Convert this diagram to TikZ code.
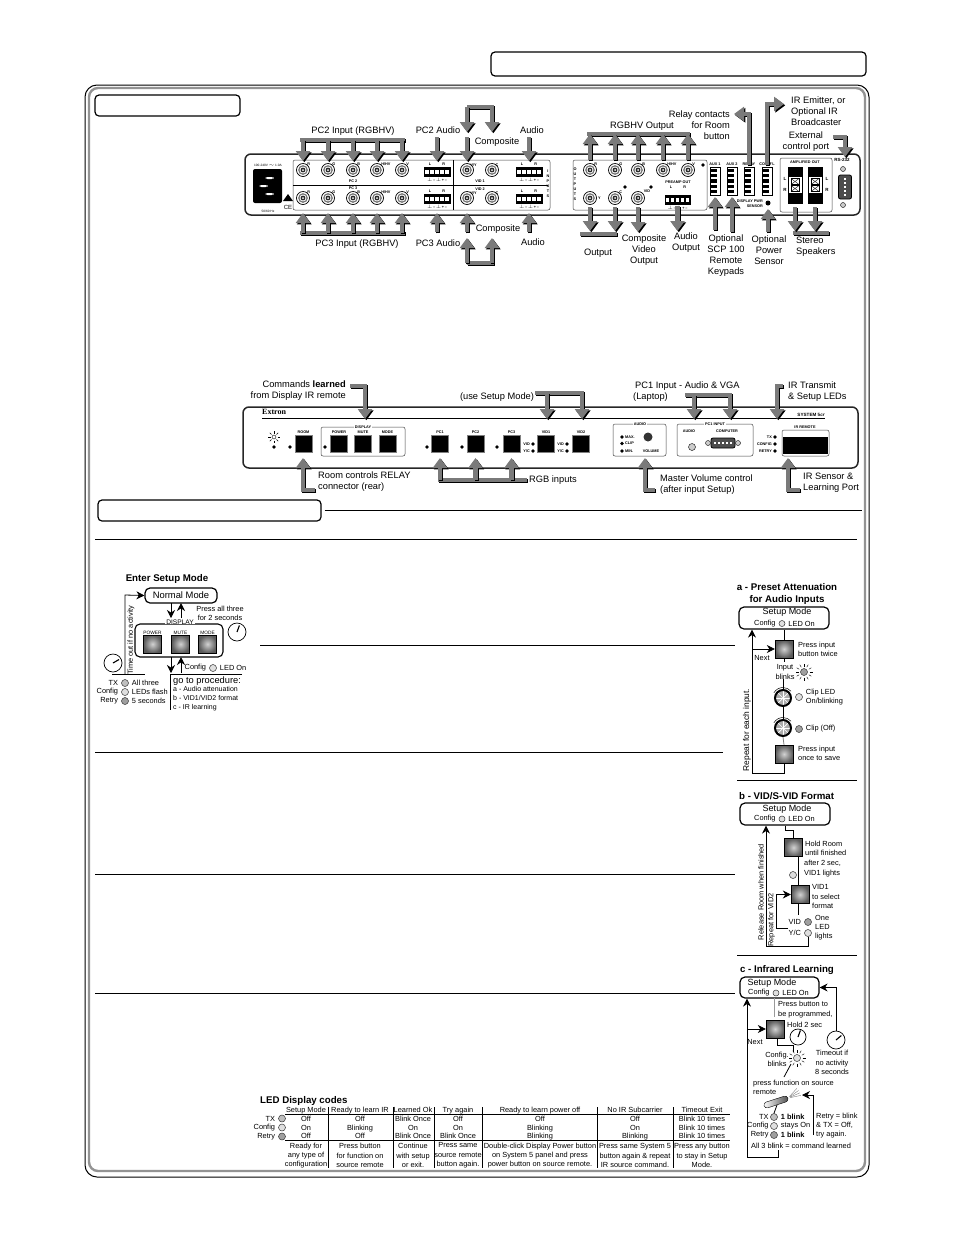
\documentclass[tikz,border=0pt]{standalone}
\usepackage{fontspec}
\setmainfont{Liberation Sans}
\newfontfamily\brandfont{Liberation Serif}
\usetikzlibrary{arrows.meta}
\usetikzlibrary{positioning}
\usetikzlibrary{calc}

\newcommand{\lblfont}{\fontsize{9.3}{11}\selectfont}
\newcommand{\smfont}{\fontsize{7.4}{9.3}\selectfont}
\newcommand{\ttlfont}{\fontsize{9.7}{12}\selectfont\bfseries}
\newcommand{\pnlfont}{\fontsize{3.8}{5}\selectfont\bfseries}
\newcommand{\phmarks}{$\perp$\,--\,$\perp$\,+\,--}

% thick grey pointers with a black edge
\newcommand{\callout}[1]{\draw[calloutbk] #1; \draw[calloutgy] #1;}
\newcommand{\callbar}[1]{\draw[calloutbk,-] #1; \draw[calloutgy,-] #1;}

\tikzset{
  calloutgy/.style={draw=black!52, line width=4.2pt, -{Triangle[width=14pt,length=10pt]}},
  calloutbk/.style={draw=black, line width=4.2pt, -{Triangle[width=14pt,length=10pt]}, transform canvas={xshift=1.3pt,yshift=-1.3pt}},
  flow/.style={line width=.8pt, -{Stealth[length=8pt,width=8pt]}},
  link/.style={line width=.8pt},
  lbl/.style={font=\lblfont, inner sep=0, align=center},
  sml/.style={font=\smfont, inner sep=0, align=left},
  ledtxt/.style={sml, label distance=3pt},
  ledtight/.style={sml, label distance=1.5pt},
  ledbold/.style={ledtxt, font=\fontsize{7.4}{9}\selectfont\bfseries},
  ttl/.style={font=\ttlfont, inner sep=0, align=center},
  pnl/.style={font=\pnlfont, inner sep=0, align=center},
  rule/.style={line width=.8pt},
  tab/.style={rectangle, draw, rounded corners=4pt, line width=1.2pt},
  chassis/.style={draw=black!85, rounded corners=6pt, line width=1.5pt},
  subbox/.style={draw=black!75, rounded corners=2pt, line width=.5pt},
  modebox/.style={rectangle, draw, rounded corners=5pt, line width=1.2pt, inner sep=0},
  led/.style={circle, draw=black!80, fill=gray!50, minimum size=7pt, inner sep=0, line width=.5pt},
  ledlite/.style={led, fill=gray!25},
  leddark/.style={led, fill=gray!75},
  dotled/.style={circle, fill=black, minimum size=3.6pt, inner sep=0},
  btn/.style={rectangle, draw=black, minimum size=18pt, inner sep=0, inner color=gray!35, outer color=black!65},
  fbtn/.style={rectangle, draw=gray, fill=black, minimum size=17pt, inner sep=0},
  bnc/.style={circle, draw=black, fill=white, line width=.7pt, minimum size=13pt, inner sep=0,
    path picture={
      \draw[line width=1.2pt, black!55] (path picture bounding box.center) circle (4.2pt);
      \fill[black!85] (path picture bounding box.center) circle (2.4pt);
      \fill[white] (path picture bounding box.center) circle (1pt);
    }},
  phoenix/.style={rectangle, draw=black, fill=black, line width=.8pt, minimum width=26pt, minimum height=9pt, inner sep=0,
    label={[pnl, label distance=1pt]below:\phmarks},
    path picture={
      \foreach \k in {-2,...,2}
        \fill[white] ($(path picture bounding box.center)+(\k*5-1.6,-2.2)$) rectangle +(3.2,4.4);
    }},
  termstrip/.style={rectangle, draw=black, fill=white, line width=.8pt, minimum width=10pt, minimum height=28pt, inner sep=0,
    path picture={
      \foreach \k in {-2,...,2}
        \fill[black] ($(path picture bounding box.center)+(-4,\k*5.2-1.6)$) rectangle +(5.5,3.2);
    }},
  ampterm/.style={rectangle, draw=black, fill=white, line width=.6pt, minimum width=14pt, minimum height=36pt, inner sep=0,
    path picture={
      \foreach \k in {-17,-15,-13,-11,-9,9,11,13,15,17}
        \draw[line width=1.1pt] ($(path picture bounding box.center)+(-7,\k)$) -- +(14,0);
      \foreach \k in {-3.5,3.5}{
        \draw[line width=.6pt] ($(path picture bounding box.center)+(-4,\k-3)$) rectangle +(8,6);
        \draw[line width=.4pt] ($(path picture bounding box.center)+(-4,\k-3)$) -- +(8,6);
        \draw[line width=.4pt] ($(path picture bounding box.center)+(4,\k-3)$) -- +(-8,6);
      }
    }},
  iec/.style={rectangle, fill=black, rounded corners=2pt, minimum width=29pt, minimum height=34pt, inner sep=0,
    path picture={
      \fill[white] ($(path picture bounding box.center)+(-2,-9)$) rectangle +(8,2);
      \fill[white] ($(path picture bounding box.center)+(-8,-1)$) rectangle +(8,2);
      \fill[white] ($(path picture bounding box.center)+(-2,7)$) rectangle +(8,2);
    }},
  dsub/.style={rectangle, draw=black, fill=black!70, rounded corners=2pt, line width=.8pt, inner sep=0},
  screw/.style={circle, draw=black, fill=gray!40, minimum size=5pt, inner sep=0, line width=.4pt},
  clockface/.style={circle, draw=black, fill=white, minimum size=18pt, inner sep=0, line width=.7pt,
    path picture={\draw[line width=1.1pt] (path picture bounding box.center) -- +(#1:7);}},
  knob/.style={circle, draw=black, fill=gray!65, line width=2pt, minimum size=16pt, inner sep=0,
    path picture={
      \foreach \a in {0,45,...,315}
        \draw[white, line width=.7pt] (path picture bounding box.center) -- +(\a:8);
    }},
}

\begin{document}
\begin{tikzpicture}[x=1pt, y=-1pt]
  \useasboundingbox (0,0) rectangle (954,1235);

  % page frame and headings
  \draw[rounded corners=12pt, line width=1pt] (85,85) rectangle (869,1177);
  \draw[rounded corners=9pt, line width=2.4pt, draw=gray!85] (89,88) rectangle (865,1171);
  \node[tab, minimum width=375pt, minimum height=24pt] (headbox) at (678.5,64) {};
  \node[tab, minimum width=145pt, minimum height=21pt] (rearbox) at (167.5,105.5) {};
  \node[tab, minimum width=223pt, minimum height=21pt] (opbox) at (209.5,510.5) {};
  \coordinate (opend) at (862,510.5);
  \draw[line width=1.7pt] (opbox.east) ++(3,0) -- (opend);

  % section rules
  \draw[rule] (95,539) -- (857,539);
  \draw[rule] (260,645) -- (735,645);
  \draw[rule] (95,752) -- (723,752);
  \draw[rule] (95,874) -- (735,874);
  \draw[rule] (95,993) -- (735,993);
  \draw[rule] (737,780) -- (857,780);
  \draw[rule] (737,955) -- (857,955);

  % ---- rear panel ----
  \draw[chassis] (245,154) rectangle (860,215);
  \draw[subbox] (293,160) rectangle (550,210);
  \draw[subbox] (573,160) rectangle (707,210);
  \draw[subbox] (780,158) rectangle (832,212);
  \draw[line width=.6pt] (293,185) -- (548,185);
  \draw[line width=.6pt] (453,160) -- (453,210);

  \node[iec] (mains) at (267.5,186) {};
  \node[pnl, font=\fontsize{3.2}{4}\selectfont] (mainsv) at (268,165) {100-240V $\sim$ 1.0A};
  \node[pnl, font=\fontsize{3.2}{4}\selectfont] (mainshz) at (268,211) {50/60 Hz};
  \fill (283,201) -- (288,194) -- (293,201) -- cycle;
  \node[pnl, font=\fontsize{6}{7}\selectfont] (celogo) at (288,207) {CE};

  % input connectors
  \foreach \c/\t/\x in {R/R/303, G/G/328, B/B/353, H/{H/HV}/377, V/V/402}{
    \node[bnc, label={[pnl, label distance=-1pt]above right:\t}] (pc2\c) at (\x,170) {};
    \node[bnc, label={[pnl, label distance=-1pt]above right:\t}] (pc3\c) at (\x,198) {};
  }
  \node[bnc, label={[pnl, label distance=-2pt]above right:V/Y}] (vid1y) at (467,170) {};
  \node[bnc, label={[pnl, label distance=-2pt]above right:C}] (vid1c) at (492,170) {};
  \node[bnc, label={[pnl, label distance=-2pt]above right:V/Y}] (vid2y) at (467,198) {};
  \node[bnc, label={[pnl, label distance=-2pt]above right:C}] (vid2c) at (492,198) {};
  \node[pnl] (pc2tag) at (353,181) {PC 2};
  \node[pnl] (pc3tag) at (353,188) {PC 3};
  \node[pnl] (vid1tag) at (480,181) {VID 1};
  \node[pnl] (vid2tag) at (480,189) {VID 2};

  \node[phoenix, label={[pnl, label distance=1pt]above:L\hspace{11pt}R}] (pc2aud) at (437,172) {};
  \node[phoenix, label={[pnl, label distance=1pt]above:L\hspace{11pt}R}] (pc3aud) at (437,199) {};
  \node[phoenix, label={[pnl, label distance=1pt]above:L\hspace{11pt}R}] (vid1aud) at (529,172) {};
  \node[phoenix, label={[pnl, label distance=1pt]above:L\hspace{11pt}R}] (vid2aud) at (529,199) {};
  \node[pnl] (inputstag) at (548,184) {I\\N\\P\\U\\T\\S};
  \node[pnl] (outputstag) at (575,184) {O\\U\\T\\P\\U\\T\\S};

  % output connectors
  \foreach \c/\t/\x in {R/R/590, G/G/615, B/B/638, H/{H/HV}/663, V/V/688}{
    \node[bnc, label={[pnl, label distance=-1pt]above right:\t}] (out\c) at (\x,170) {};
  }
  \node[bnc, label={[pnl, label distance=1pt]right:Y}] (outy) at (590,198) {};
  \node[bnc, label={[pnl, label distance=-1pt]above right:C}] (outc) at (615,198) {};
  \node[bnc, label={[pnl, label distance=1pt]above right:VID}] (outv) at (638,198) {};
  \node[dotled] (vled) at (703,165) {};
  \node[dotled] (cled) at (625,187) {};
  \node[dotled] (vidled) at (651,187) {};
  \node[pnl] (pretag) at (678,185) {PREAMP OUT\\L\hspace{11pt}R};
  \node[phoenix, minimum width=25pt] (preout) at (677.5,200) {};

  % strips and speaker terminals
  \foreach \c/\t/\x in {auxa/AUX 1/715, auxb/AUX 2/732, relay/RELAY/749, comm/COMM'L/767}{
    \node[termstrip, label={[pnl, label distance=1pt]above:\t}] (\c) at (\x,181) {};
  }
  \node[dotled, minimum size=5pt] (pwrled) at (768,203) {};
  \node[pnl, align=right, anchor=east] (pwrtag) at (763,204) {DISPLAY PWR\\SENSOR};
  \node[pnl] (amptag) at (805,162) {AMPLIFIED OUT};
  \node[ampterm] (ampl) at (795,185) {};
  \node[ampterm] (ampr) at (815,185) {};
  \foreach \n/\t/\x/\y in {ala/L/785/179, alb/R/785/190, ara/L/827/179, arb/R/827/190}{
    \node[pnl, font=\fontsize{4.5}{5}\selectfont\bfseries] (\n) at (\x,\y) {\t};
  }
  \node[pnl, font=\fontsize{4.5}{5}\selectfont\bfseries] (rstag) at (842,160) {RS-232};
  \node[screw] (rsa) at (843,169) {};
  \node[screw] (rsb) at (843,205) {};
  \node[dsub, minimum width=13pt, minimum height=24pt] (rsport) at (845,187) {};
  \foreach \y in {-8,-4,0,4,8}{
    \fill[white] ($(rsport.center)+(-.8,\y-.8)$) rectangle +(1.6,1.6);
  }

  % rear captions
  \node[lbl] (pc2cap) at (353,131) {PC2 Input (RGBHV)};
  \node[lbl] (pc3cap) at (357,244) {PC3 Input (RGBHV)};
  \node[lbl] (pc2audcap) at (438,130) {PC2 Audio};
  \node[lbl] (pc3audcap) at (438,243) {PC3 Audio};
  \node[lbl] (comptop) at (497,142) {Composite};
  \node[lbl] (compbot) at (498,229) {Composite};
  \node[lbl] (audtop) at (532,130) {Audio};
  \node[lbl] (audbot) at (533,242) {Audio};
  \node[lbl] (rgbout) at (642,126) {RGBHV Output};
  \node[lbl] (outcap) at (598,253) {Output};
  \node[lbl] (compout) at (644,250) {Composite\\Video\\Output};
  \node[lbl] (audout) at (686,242.5) {Audio\\Output};
  \node[lbl] (scpcap) at (726,256) {Optional\\SCP 100\\Remote\\Keypads};
  \node[lbl] (sensorcap) at (769,250) {Optional\\Power\\Sensor};
  \node[lbl, align=left, anchor=west] (spkcap) at (796,247) {Stereo\\Speakers};
  \node[lbl, align=right, anchor=east] (relaycap) at (730,125.5) {Relay contacts\\for Room\\button};
  \node[lbl, align=left, anchor=west] (ircap) at (791,111) {IR Emitter, or\\Optional IR\\Broadcaster};
  \node[lbl] (extcap) at (806,141.5) {External\\control port};

  % rear pointers
  \coordinate (toptip) at (0,161);
  \coordinate (bottip) at (0,213);
  \coordinate (topstart) at (0,137);
  \coordinate (botstart) at (0,232);
  \coordinate (pc2bus) at (300,140);
  \coordinate (pc3bus) at (300,233);
  \coordinate (compbusa) at (467,107);
  \coordinate (compbusb) at (467,263);
  \coordinate (outbus) at (587,134);
  \coordinate (outlowbus) at (580,234);
  \coordinate (spkbus) at (793,233);

  \callbar{(pc2bus) -- ++(105,0)}
  \callbar{(pc3bus) -- ++(105,0)}
  \foreach \c in {R,G,B,H,V}{
    \callout{(pc2bus -| pc2\c) -- (pc2\c |- toptip)}
    \callout{(pc3bus -| pc3\c) -- (pc3\c |- bottip)}
  }
  \callout{(pc2aud |- topstart) -- (pc2aud |- toptip)}
  \callout{(pc3aud |- botstart) -- (pc3aud |- bottip)}
  \callout{(vid1y |- topstart) -- (vid1y |- toptip)}
  \callout{(vid2y |- botstart) -- (vid2y |- bottip)}
  \callout{(vid1aud |- topstart) -- (vid1aud |- toptip)}
  \callout{(vid2aud |- botstart) -- (vid2aud |- bottip)}
  \callbar{(compbusa) -- ++(27,0)}
  \callbar{(compbusb) -- ++(27,0)}
  \callout{(compbusa -| vid1y) -- ++(0,25)}
  \callout{(compbusa -| vid1c) -- ++(0,25)}
  \callout{(compbusb -| vid2y) -- ++(0,-25)}
  \callout{(compbusb -| vid2c) -- ++(0,-25)}

  \callbar{(outbus) -- ++(103,0)}
  \foreach \c in {R,G,B,H,V}{
    \callout{(outbus -| out\c) ++(0,26) -- (outbus -| out\c)}
  }
  \callbar{(outlowbus) -- ++(37,0)}
  \callout{(outy |- 0,207) -- (outy |- 0,231)}
  \callout{(outc |- 0,207) -- (outc |- 0,231)}
  \callout{(outv |- 0,207) -- (outv |- 0,232)}
  \callout{(preout |- 0,206) -- (preout |- 0,231)}
  \callout{(auxa |- 0,230) -- (auxa |- 0,197)}
  \callout{(auxb |- 0,232) -- (auxb |- 0,197)}
  \callout{(pwrled |- 0,232) -- (pwrled |- 0,209)}
  \callbar{(spkbus) -- ++(36,0)}
  \callout{(ampl |- 0,207) -- (ampl |- 0,231)}
  \callout{(ampr |- 0,207) -- (ampr |- 0,231)}
  \callout{(relay |- 0,165) -- (relay |- 0,114) -- (734,114)}
  \callout{(comm |- 0,165) -- (comm |- 0,104) -- (784,104)}
  \callout{(833,137) -- (rsport |- 0,137) -- (rsport |- 0,157)}

  % ---- front panel ----
  \draw[chassis] (243,407) rectangle (858,468);
  \draw[line width=.8pt] (262,418) -- (825,418);
  \node[inner sep=0, font=\fontsize{8}{9}\selectfont\bfseries\brandfont, anchor=west] (brandname) at (262,412) {Extron};
  \node[pnl, font=\fontsize{4.6}{5}\selectfont\bfseries, anchor=east] (modelname) at (825,415) {SYSTEM 5\textit{cr}};
  \draw[subbox] (321,427) rectangle (405,456);
  \draw[subbox] (613,424) rectangle (666,456);
  \draw[subbox] (677,424) rectangle (753,456);
  \node[pnl, fill=white, inner xsep=1pt] (disptag) at (363,427) {DISPLAY};
  \node[pnl, fill=white, inner xsep=1pt] (audiotag) at (640,424) {AUDIO};
  \node[pnl, fill=white, inner xsep=1pt] (pc1tag) at (715,424) {PC1 INPUT};

  \node[circle, draw, minimum size=4pt, inner sep=0] (sun) at (274,437) {};
  \foreach \a in {0,45,...,315}{
    \draw[line width=.4pt] (sun) ++(\a:3.5) -- ++(\a:2.5);
  }
  \node[dotled] (pwrdot) at (274,447) {};

  \foreach \c/\t/\x in {room/ROOM/303.5, power/POWER/339, mute/MUTE/363, mode/MODE/387.5, pca/PC1/440, pcb/PC2/475.5, pcc/PC3/511.5, vida/VID1/546, vidb/VID2/581}{
    \node[fbtn, label={[pnl, label distance=2pt]above:\t}] (\c) at (\x,444) {};
  }
  \foreach \n/\x in {rooml/290, dispa/325, pcal/427, pcbl/462, pccl/497}{
    \node[dotled] (\n) at (\x,447) {};
  }
  \node[dotled, label={[pnl, label distance=1pt]left:VID}] (vdaa) at (533,444) {};
  \node[dotled, label={[pnl, label distance=1pt]left:Y/C}] (vdab) at (533,451) {};
  \node[dotled, label={[pnl, label distance=1pt]left:VID}] (vdba) at (567,444) {};
  \node[dotled, label={[pnl, label distance=1pt]left:Y/C}] (vdbb) at (567,451) {};

  \node[dotled, label={[pnl, label distance=1pt]right:MAX.}] (maxled) at (622,437) {};
  \node[dotled, label={[pnl, label distance=1pt]right:CLIP}] (clipled) at (622,443.5) {};
  \node[dotled, label={[pnl, label distance=1pt]right:MIN.}] (minled) at (622,451) {};
  \node[circle, fill=black!80, minimum size=9pt, inner sep=0] (volknob) at (648,437) {};
  \node[pnl] (voltag) at (651,451.5) {VOLUME};
  \node[pnl] (pcaudtag) at (689,431) {AUDIO};
  \node[pnl] (comptag) at (727,431) {COMPUTER};
  \node[screw, minimum size=7pt] (pcjack) at (692,447) {};
  \node[dsub, minimum width=24pt, minimum height=10pt] (vgaport) at (723,443) {};
  \foreach \x in {-8,-4,0,4,8}{
    \fill[white] ($(vgaport.center)+(\x-.7,-.7)$) rectangle +(1.4,1.4);
  }
  \node[screw] (vgaa) at (708,443) {};
  \node[screw] (vgab) at (738,443) {};
  \node[dotled, label={[pnl, label distance=1pt]left:TX}] (txled) at (775,437) {};
  \node[dotled, label={[pnl, label distance=1pt]left:CONFIG}] (cfgled) at (775,444) {};
  \node[dotled, label={[pnl, label distance=1pt]left:RETRY}] (rtyled) at (775,451) {};
  \node[subbox, draw, rectangle, minimum width=47pt, minimum height=26pt] (irbox) at (805.5,443) {};
  \node[rectangle, fill=black, minimum width=45pt, minimum height=17pt, inner sep=0] (irwin) at (805.5,445) {};
  \node[pnl] (irtag) at (805,427) {IR REMOTE};

  % front captions
  \node[lbl, align=right, anchor=east] (cmdcap) at (346,391) {Commands \textbf{learned}\\from Display IR remote};
  \node[lbl] (setupcap) at (497,397) {(use Setup Mode)};
  \node[lbl, align=left, anchor=west] (pc1cap) at (625,391.5) {\hspace{10pt}PC1 Input - Audio \& VGA\\\hspace{8pt}(Laptop)};
  \node[lbl, align=left, anchor=west] (txcap) at (788,391.5) {IR Transmit\\\& Setup LEDs};
  \node[lbl, align=left, anchor=west] (roomcap) at (318,481.5) {Room controls RELAY\\connector (rear)};
  \node[lbl, anchor=west] (rgbcap) at (529,480) {RGB inputs};
  \node[lbl, align=left, anchor=west] (volcap) at (660,485) {Master Volume control\\(after input Setup)};
  \node[lbl, align=left, anchor=west] (senscap) at (803,482.5) {IR Sensor \&\\Learning Port};

  % front pointers
  \coordinate (fronttip) at (0,419);
  \coordinate (lowtip) at (0,458);
  \callout{(350,386) -- (365,386) -- (365,419)}
  \callbar{(535,393) -- (584,393)}
  \callout{(547,393) -- (547,419)}
  \callout{(582,393) -- (582,419)}
  \callbar{(685,395) -- (732,395)}
  \callout{(694,395) -- (694,419)}
  \callout{(730,395) -- (730,419)}
  \callout{(783,386) -- (777,386) -- (777,419)}
  \callout{(315,490) -- (303,490) -- (303,458)}
  \callbar{(438,480) -- (527,480)}
  \callout{(pca |- 0,480) -- (pca |- lowtip)}
  \callout{(pcb |- 0,480) -- (pcb |- lowtip)}
  \callout{(pcc |- 0,480) -- (pcc |- lowtip)}
  \callout{(655,490) -- (645,490) -- (645,458)}
  \callout{(800,490) -- (788,490) -- (788,458)}

  % ---- enter setup mode ----
  \node[ttl] (entercap) at (167,579) {Enter Setup Mode};
  \node[modebox, minimum width=72pt, minimum height=15pt, font=\fontsize{9.4}{11}\selectfont] (normal) at (181,595.5) {Normal Mode};
  \draw[rounded corners=5pt, line width=1.1pt] (135,624) rectangle (223,657);
  \node[sml, font=\fontsize{6.6}{8}\selectfont, fill=white, inner xsep=1pt] (disphead) at (180,622) {DISPLAY};
  \foreach \c/\t/\x in {spower/POWER/152.5, smute/MUTE/180.5, smode/MODE/207.5}{
    \node[btn, label={[pnl, font=\fontsize{4.8}{5}\selectfont, label distance=.5pt]above:\t}] (\c) at (\x,644) {};
  }
  \node[sml, align=center] (pressall) at (220,613.5) {Press all three\\for 2 seconds};
  \node[clockface=-70] (clocka) at (237,632) {};
  \node[clockface=-30, rotate=0] (clockb) at (113,663) {};
  \draw[flow] (171,603) -- (171,618);
  \draw[flow] (181,618) -- (181,603);
  \draw[flow] (171,657) -- (171,673);
  \draw[flow] (181,673) -- (181,657);
  \draw[flow] (125,674) -- (125,595) -- (normal.west);
  \draw[line width=1pt] (112,674) -- (145,674);
  \node[sml, rotate=90] (timeout) at (131,640) {Time out if no activity};
  \node[led, label={[ledtxt]left:TX}, label={[ledtxt]right:All three}] (ledtxa) at (125,683) {};
  \node[ledlite, label={[ledtxt]left:Config}, label={[ledtxt]right:LEDs flash}] (ledcfa) at (125,692) {};
  \node[leddark, label={[ledtxt]left:Retry}, label={[ledtxt]right:5 seconds}] (ledrya) at (125,701) {};
  \node[ledlite, label={[ledtxt]left:Config}, label={[ledtxt]right:LED On}] (ledcfb) at (213,668) {};
  \draw[line width=1pt] (242,674) -- (170,674) -- (170,710);
  \node[sml, font=\fontsize{9.3}{11}\selectfont, anchor=west] (gotocap) at (173,681) {go to procedure:};
  \node[sml, anchor=north west, font=\fontsize{7}{9}\selectfont] (gotolist) at (173,686) {a - Audio attenuation\\b - VID1/VID2 format\\c - IR learning};

  % ---- procedure a ----
  \node[ttl] (acap) at (787,594) {a - Preset Attenuation\\for Audio Inputs};
  \node[modebox, minimum width=90pt, minimum height=22pt] (setupa) at (784,618) {};
  \node[lbl, font=\fontsize{9}{10}\selectfont] (setupatxt) at (787,612) {Setup Mode};
  \node[ledlite, minimum size=6pt, label={[ledtxt]left:Config}, label={[ledtxt]right:LED On}] (ledaset) at (782,623.5) {};
  \node[btn] (abtna) at (784,649) {};
  \node[btn] (abtnb) at (784,754) {};
  \node[knob] (knoba) at (783,698) {};
  \node[knob] (knobb) at (783,728) {};
  \node[sml, anchor=west] (apress) at (798,649) {Press input\\button twice};
  \node[sml, align=center] (ablink) at (785,672) {Input\\blinks};
  \node[leddark] (ablinkled) at (804,672) {};
  \foreach \a in {0,30,...,330}{
    \draw[line width=.4pt] (ablinkled) ++(\a:5.5) -- ++(\a:3);
  }
  \node[ledlite, label={[ledtxt, align=left]right:Clip LED\\On/blinking}] (aclipa) at (799,697) {};
  \node[leddark, label={[ledtxt]right:Clip (Off)}] (aclipb) at (799,729) {};
  \node[sml, anchor=west] (asave) at (798,753.5) {Press input\\once to save};
  \foreach \n in {knoba,knobb}{
    \draw[line width=.5pt] (\n.center) ++(-150:10.5) arc[start angle=-150, end angle=-40, radius=10.5];
  }
  \draw[link] (setupa.south -| abtna) -- (abtna.north);
  \draw[link] (abtna.south) -- ++(0,4);
  \draw[link] (ablink.south -| knoba) -- (knoba.north);
  \draw[link] (knoba.south) -- (knobb.north);
  \draw[link, gray] (knobb.south) -- (abtnb.north);
  \coordinate (aloop) at (752,773);
  \draw[flow] (abtnb.south) -- (abtnb |- aloop) -- (aloop) -- (aloop |- setupa.south);
  \draw[flow] (aloop |- abtna) -- (abtna.west);
  \node[sml] (anext) at (762,658) {Next};
  \node[lbl, font=\fontsize{8.4}{10}\selectfont, rotate=90] (arepeat) at (747,730) {Repeat for each input.};

  % ---- procedure b ----
  \node[ttl, anchor=west] (bcap) at (739,796) {b - VID/S-VID Format};
  \node[modebox, minimum width=90pt, minimum height=22pt] (setupb) at (785,814) {};
  \node[lbl, font=\fontsize{9}{10}\selectfont] (setupbtxt) at (787,809) {Setup Mode};
  \node[ledlite, minimum size=6pt, label={[ledtxt]left:Config}, label={[ledtxt]right:LED On}] (ledbset) at (782,819) {};
  \node[btn] (bbtna) at (793.5,847.5) {};
  \node[btn] (bbtnb) at (800,894.5) {};
  \coordinate (bbend) at (785,830);
  \draw[link] (bbend |- setupb.south) -- (bbend) -| (bbtna.north);
  \node[sml, anchor=west] (bhold) at (805,848) {Hold Room\\until finished};
  \node[sml, anchor=west] (bafter) at (804,868.5) {after 2 sec,\\VID1 lights};
  \node[ledlite] (bvidled) at (793,875) {};
  \draw[link] (798,857) -- (798,885);
  \node[sml, anchor=west] (bvidtxt) at (812,896.5) {VID1\\to select\\format};
  \node[leddark, label={[ledtxt]left:VID}] (bleda) at (808,922) {};
  \node[ledlite, label={[ledtxt]left:Y/C}] (bledb) at (808,933) {};
  \node[sml, anchor=west] (bone) at (815,927.5) {One\\LED\\lights};
  \draw[link] (798,904) -- (798,915);
  \coordinate (bloopa) at (776,928);
  \draw[flow] (788,928) -- (bloopa) -- (bloopa |- bbtnb) -- (bbtnb.west);
  \coordinate (bloopb) at (766,946);
  \draw[flow] (bledb.south) -- (bledb |- bloopb) -- (bloopb) -- (bloopb |- setupb.south);
  \node[sml, rotate=90] (brelease) at (761,892) {Release Room when finished};
  \node[sml, rotate=90] (brepeat) at (771.5,920) {Repeat for VID2};

  % ---- procedure c ----
  \node[ttl] (ccap) at (787,970) {c - Infrared Learning};
  \node[modebox, minimum width=79pt, minimum height=21pt] (setupc) at (779.5,987.5) {};
  \node[lbl, font=\fontsize{9}{10}\selectfont] (setupctxt) at (772,983) {Setup Mode};
  \node[ledlite, minimum size=6pt, label={[ledtxt]left:Config}, label={[ledtxt]right:LED On}] (ledcset) at (776,993) {};
  \node[btn] (cbtn) at (775,1029) {};
  \draw[link, gray!80] (774,998) -- (774,1017);
  \node[sml, anchor=west] (cpress) at (778,1009.5) {Press button to\\be programmed,};
  \node[sml, anchor=west] (chold) at (787,1025) {Hold 2 sec};
  \node[clockface=-70, minimum size=16pt] (clockc) at (798,1037) {};
  \node[clockface=-40] (clockd) at (836,1040) {};
  \node[sml, align=center] (ctimeout) at (832,1062.5) {Timeout if\\no activity\\8 seconds};
  \draw[flow] (clockd.north) -- (clockd |- setupc.east) -- (setupc.east);
  \node[sml, align=center] (cblinks) at (777,1059.5) {Config.\\blinks};
  \node[ledlite] (cblinkled) at (797,1058) {};
  \foreach \a in {0,30,...,330}{
    \draw[line width=.4pt] (cblinkled) ++(\a:5.5) -- ++(\a:3);
  }
  \draw[link] (777,1038) -- (777,1045) -- (793,1045) -- (793,1052);
  \draw[link] (791,1064) -- (784,1077);
  \node[sml, anchor=west] (cfunc) at (753,1087) {press function on source\\remote};
  \node[rectangle, rotate=18, draw, rounded corners=3pt, minimum width=25pt, minimum height=6pt, inner sep=0, left color=white, right color=black!70] (cremote) at (776,1102) {};
  \foreach \a in {-12,-24,-36,-48}{
    \draw[gray, line width=.4pt] (cremote.east) ++(\a:2) -- ++(\a:11);
  }
  \node[led, label={[ledtight]left:TX}, label={[ledbold]right:1 blink}] (ctx) at (774,1117) {};
  \node[ledlite, label={[ledtight]left:Config}, label={[ledtxt]right:stays On}] (ccfg) at (774,1126) {};
  \node[leddark, label={[ledtight]left:Retry}, label={[ledbold]right:1 blink}] (crty) at (774,1135) {};
  \node[sml, anchor=west] (call) at (751,1146) {All 3 b\textbf{l}ink = command learned};
  \draw[link] (cremote.south) -- (ctx.north);
  \draw[flow] (813,1135) -- (813,1095) -- (802,1095);
  \node[sml, anchor=west] (cretry) at (816,1125.5) {Retry = blink\\\& TX = Off,\\try again.};
  \coordinate (cloop) at (747,1157);
  \draw[flow] (778,1150) -- (778,1157) -- (cloop) -- (cloop |- setupc.south);
  \draw[flow] (cloop |- cbtn) -- (cbtn.west);
  \node[sml] (cnext) at (755,1042) {Next};

  % ---- LED code table ----
  \node[ttl, anchor=west] (tabcap) at (260,1101) {LED Display codes};
  \node[led, label={[ledtxt]left:TX}] (tledt) at (282,1118.5) {};
  \node[ledlite, label={[ledtxt]left:Config}] (tledc) at (282,1127.5) {};
  \node[leddark, label={[ledtxt]left:Retry}] (tledr) at (282,1136.5) {};
  \draw[rule] (285,1114) -- (730,1114);
  \draw[rule] (285,1140) -- (730,1140);
  \foreach \x in {328,393,434,482,597,673}{
    \draw[rule] (\x,1107) -- (\x,1168);
  }
  \foreach \n/\x/\t/\a/\b/\c/\d in {
    sm/306/Setup Mode/Off/On/Off/{Ready for\\any type of\\configuration},
    lr/360/Ready to learn IR/Off/Blinking/Off/{Press button\\for function on\\source remote},
    ok/413/Learned Ok/Blink Once/On/Blink Once/{Continue\\with setup\\or exit.},
    ta/458/Try again/Off/On/Blink Once/{Press same\\source remote\\button again.},
    pw/540/Ready to learn power off/Off/Blinking/Blinking/{Double-click Display Power button\\on System 5 panel and press\\power button on source remote.},
    nc/635/No IR Subcarrier/Off/On/Blinking/{Press same System 5\\button again \& repeat\\IR source command.},
    te/702/Timeout Exit/Blink 10 times/Blink 10 times/Blink 10 times/{Press any button\\to stay in Setup\\Mode.}}{
    \node[sml, align=center, anchor=base] (\n h) at (\x,1112.5) {\t};
    \node[sml, align=center, anchor=base] (\n a) at (\x,1121.5) {\a};
    \node[sml, align=center, anchor=base] (\n b) at (\x,1130) {\b};
    \node[sml, align=center, anchor=base] (\n c) at (\x,1138.5) {\c};
    \node[sml, align=center] (\n d) at (\x,1155.5) {\d};
  }
\end{tikzpicture}
\end{document}
